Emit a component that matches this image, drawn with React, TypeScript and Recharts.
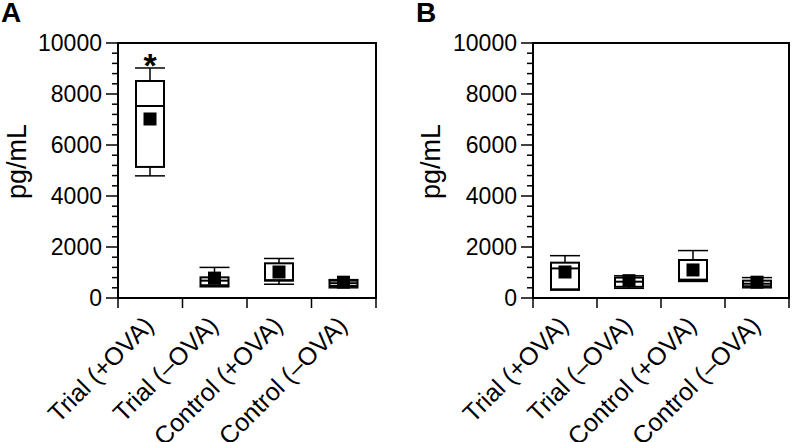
import { Bar, ComposedChart, ReferenceArea, XAxis, YAxis } from "recharts";

// Cytokine levels, box plots: whiskers = min/max, box = quartiles, line = median, square = mean.
const categories = ["Trial (+OVA)", "Trial (–OVA)", "Control (+OVA)", "Control (–OVA)"];

const minA = [4790, 440, 540, 400];
const q1A = [5140, 500, 680, 470];
const medA = [7530, 680, 700, 580];
const q3A = [8510, 810, 1360, 680];
const maxA = [9020, 1200, 1550, 720];
const meanA = [7020, 780, 1020, 620];
const sigA = ["*", "", "", ""];

const minB = [310, 380, 650, 400];
const q1B = [340, 440, 680, 460];
const medB = [1160, 640, 720, 560];
const q3B = [1385, 800, 1490, 680];
const maxB = [1660, 870, 1860, 800];
const meanB = [1020, 680, 1100, 620];
const sigB = ["", "", "", ""];

const majorTicks = [0, 2000, 4000, 6000, 8000, 10000];
const allTicks = [
  0, 400, 800, 1200, 1600, 2000, 2400, 2800, 3200, 3600, 4000, 4400, 4800, 5200, 5600, 6000, 6400,
  6800, 7200, 7600, 8000, 8400, 8800, 9200, 9600, 10000,
];

const FONT = '"Liberation Sans", Arial, sans-serif';
const H = 442;
const PLOT_TOP = 43;
const PLOT_BOTTOM = 298;

function rows(min: number[], q1: number[], med: number[], q3: number[], max: number[], mean: number[], sig: string[]) {
  return categories.map((name, i) => ({
    name,
    range: [min[i], max[i]],
    q1: q1[i],
    med: med[i],
    q3: q3[i],
    mean: mean[i],
    sig: sig[i],
  }));
}

function BoxShape(props: any) {
  const { x, y, width, height, payload } = props;
  const [lo, hi] = payload.range;
  const top = Math.min(y, y + height);
  const bot = Math.max(y, y + height);
  const py = (v: number) => bot - ((v - lo) / (hi - lo)) * (bot - top);
  const cx = x + width / 2;
  const capL = x - 1;
  const capR = x + width + 1;
  const sq = 13;
  return (
    <g>
      <line x1={cx} x2={cx} y1={py(hi)} y2={py(payload.q3)} stroke="#000" strokeWidth={1.5} />
      <line x1={cx} x2={cx} y1={py(payload.q1)} y2={py(lo)} stroke="#000" strokeWidth={1.5} />
      <line x1={capL} x2={capR} y1={py(hi)} y2={py(hi)} stroke="#000" strokeWidth={1.5} />
      <line x1={capL} x2={capR} y1={py(lo)} y2={py(lo)} stroke="#000" strokeWidth={1.5} />
      <rect
        x={x}
        y={py(payload.q3)}
        width={width}
        height={py(payload.q1) - py(payload.q3)}
        fill="#fff"
        stroke="#000"
        strokeWidth={2}
      />
      <line x1={x} x2={x + width} y1={py(payload.med)} y2={py(payload.med)} stroke="#000" strokeWidth={2} />
      <rect x={cx - sq / 2} y={py(payload.mean) - sq / 2} width={sq} height={sq} fill="#000" />
      {payload.sig && (
        <text x={cx} y={py(hi) + 9} textAnchor="middle" fontSize={34} fontWeight="bold" fontFamily={FONT}>
          {payload.sig}
        </text>
      )}
    </g>
  );
}

function YTick(props: any) {
  const { x, y, payload } = props;
  const major = majorTicks.includes(payload.value);
  return (
    <g>
      <line x1={x - (major ? 12 : 6)} x2={x} y1={y} y2={y} stroke="#000" strokeWidth={1.5} />
      {major && (
        <text x={x - 16} y={y + 8} textAnchor="end" fontSize={23} fontFamily={FONT} fill="#000">
          {payload.value}
        </text>
      )}
    </g>
  );
}

function makeXTick(band: number) {
  return function XTick(props: any) {
    const { x, y, payload, index } = props;
    const tx = x + 5;
    const ty = y + 29;
    return (
      <g>
        <line x1={x - band / 2} x2={x - band / 2} y1={y} y2={y + 10} stroke="#000" strokeWidth={1.5} />
        {index === categories.length - 1 && (
          <line x1={x + band / 2} x2={x + band / 2} y1={y} y2={y + 10} stroke="#000" strokeWidth={1.5} />
        )}
        <text
          x={tx}
          y={ty}
          textAnchor="end"
          fontSize={25}
          fontFamily={FONT}
          fill="#000"
          transform={`rotate(-45 ${tx} ${ty})`}
        >
          {payload.value}
        </text>
      </g>
    );
  };
}

function Panel({
  data,
  axisWidth,
  right,
  labelX,
}: {
  data: ReturnType<typeof rows>;
  axisWidth: number;
  right: number;
  labelX: number;
}) {
  const width = 396;
  const band = (width - axisWidth - right) / categories.length;
  return (
    <ComposedChart
      width={width}
      height={H}
      data={data}
      margin={{ top: PLOT_TOP, right, bottom: 0, left: 0 }}
    >
      <XAxis
        dataKey="name"
        type="category"
        interval={0}
        axisLine={false}
        tickLine={false}
        tickSize={0}
        tickMargin={0}
        height={H - PLOT_BOTTOM}
        tick={makeXTick(band)}
      />
      <YAxis
        type="number"
        domain={[0, 10000]}
        ticks={allTicks}
        interval={0}
        width={axisWidth}
        axisLine={false}
        tickLine={false}
        tickSize={0}
        tickMargin={0}
        tick={<YTick />}
        label={(p: any) => {
          const vb = p.viewBox || {};
          const cy = (vb.y ?? PLOT_TOP) + (vb.height ?? PLOT_BOTTOM - PLOT_TOP) / 2 - 9;
          return (
            <text
              x={labelX}
              y={cy}
              textAnchor="middle"
              fontSize={27}
              fontFamily={FONT}
              fill="#000"
              transform={`rotate(-90 ${labelX} ${cy})`}
              dy={9}
            >
              pg/mL
            </text>
          );
        }}
      />
      <ReferenceArea
        x1={categories[0]}
        x2={categories[categories.length - 1]}
        y1={0}
        y2={10000}
        fill="none"
        stroke="#000"
        strokeWidth={2}
        ifOverflow="visible"
      />
      <Bar dataKey="range" barSize={28} shape={BoxShape} isAnimationActive={false} />
    </ComposedChart>
  );
}

export default function App() {
  const dataA = rows(minA, q1A, medA, q3A, maxA, meanA, sigA);
  const dataB = rows(minB, q1B, medB, q3B, maxB, meanB, sigB);
  const letter = { position: "absolute" as const, top: 0, fontSize: 28, lineHeight: "26px", fontWeight: "bold" };
  return (
    <div
      style={{
        position: "absolute",
        left: 0,
        top: 0,
        width: 792,
        height: H,
        background: "#fff",
        fontFamily: FONT,
        overflow: "hidden",
      }}
    >
      <div style={{ position: "absolute", left: 0, top: 0 }}>
        <Panel data={dataA} axisWidth={118} right={20} labelX={17} />
      </div>
      <div style={{ position: "absolute", left: 396, top: 0 }}>
        <Panel data={dataB} axisWidth={137} right={3} labelX={35} />
      </div>
      <div style={{ ...letter, left: 1 }}>A</div>
      <div style={{ ...letter, left: 416 }}>B</div>
    </div>
  );
}
